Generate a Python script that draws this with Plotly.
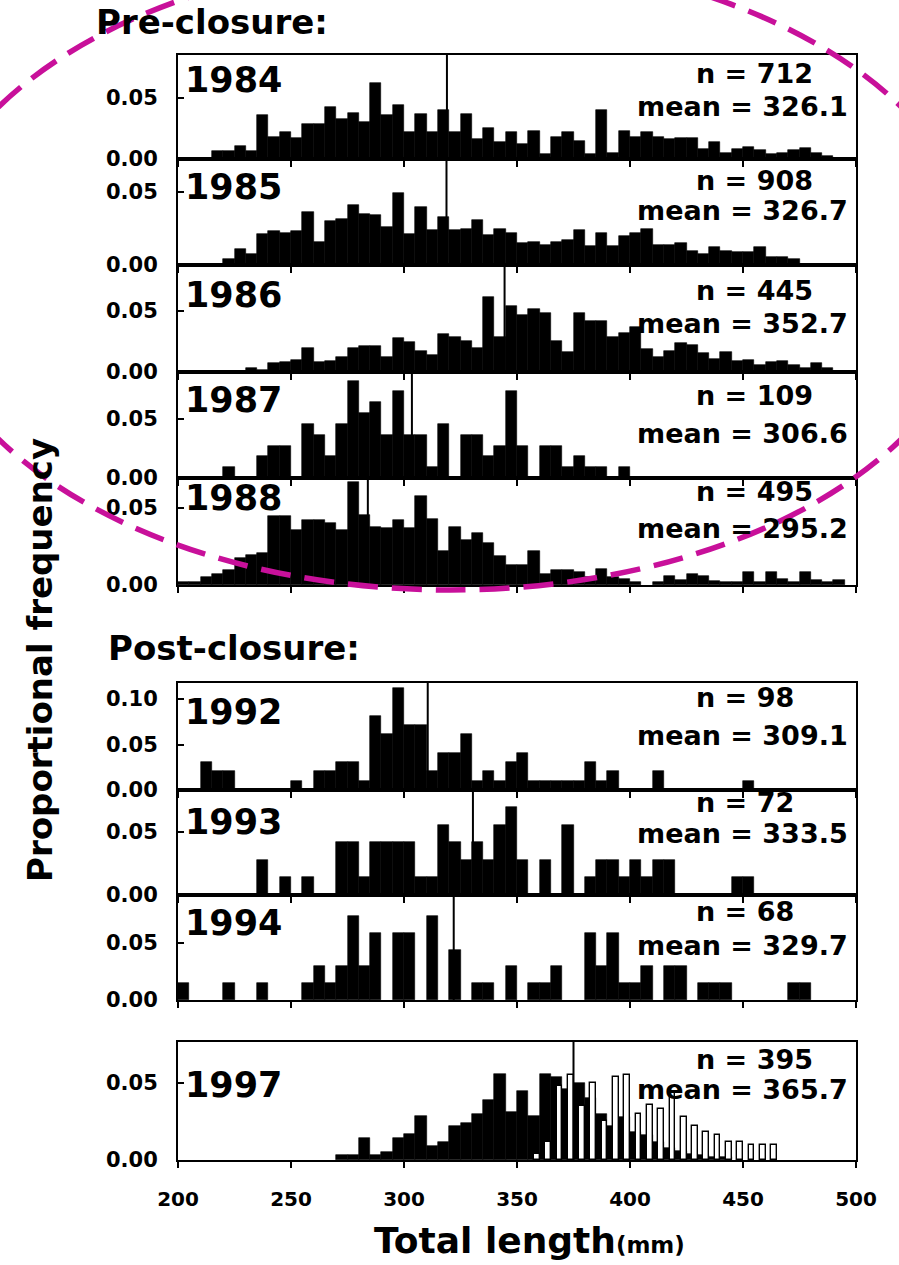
import plotly.graph_objects as go

W, H = 899, 1265
BIN_LEFT = list(range(200, 500, 5))   # 5-mm length classes, left edges
BIN_WIDTH = 5
X_TICKS = [200, 250, 300, 350, 400, 450, 500]

YEARS = ["1984", "1985", "1986", "1987", "1988", "1992", "1993", "1994", "1997"]
N_LABELS = [712, 908, 445, 109, 495, 98, 72, 68, 395]
MEAN_LABELS = ["326.1", "326.7", "352.7", "306.6", "295.2", "309.1", "333.5", "329.7", "365.7"]
MEAN_LINE_X = [319.0, 318.8, 344.5, 303.5, 284.0, 310.5, 330.5, 322.0, 375.0]

# proportional frequencies
F1984 = [0, 0, 0, 0.0067, 0.0067, 0.011, 0.0067, 0.036, 0.018, 0.0225,
         0.017, 0.029, 0.029, 0.043, 0.033, 0.038, 0.030, 0.062, 0.036, 0.044,
         0.0225, 0.037, 0.0225, 0.040, 0.022, 0.037, 0.016, 0.025, 0.0136, 0.022,
         0.012, 0.023, 0.0044, 0.018, 0.0225, 0.015, 0.004, 0.040, 0.005, 0.023,
         0.018, 0.022, 0.018, 0.016, 0.017, 0.017, 0.008, 0.0136, 0.005, 0.008,
         0.010, 0.007, 0.004, 0.005, 0.007, 0.009, 0.005, 0.0025, 0, 0]
F1985 = [0, 0, 0, 0, 0.0043, 0.011, 0.0076, 0.021, 0.0235, 0.022,
         0.0235, 0.036, 0.0157, 0.030, 0.0315, 0.041, 0.035, 0.034, 0.0257, 0.049,
         0.021, 0.0396, 0.024, 0.0326, 0.024, 0.025, 0.031, 0.0207, 0.025, 0.0217,
         0.0148, 0.0157, 0.0135, 0.0157, 0.017, 0.024, 0.013, 0.0217, 0.013, 0.020,
         0.0217, 0.025, 0.014, 0.0135, 0.0148, 0.0098, 0.0076, 0.012, 0.0098, 0.009,
         0.0087, 0.012, 0.0054, 0.0054, 0.004, 0, 0, 0, 0, 0]
F1986 = [0, 0, 0, 0, 0, 0, 0.0033, 0.002, 0.007, 0.008,
         0.0097, 0.020, 0.0078, 0.0089, 0.0125, 0.0194, 0.021, 0.0217, 0.0125, 0.028,
         0.0244, 0.0172, 0.0139, 0.031, 0.029, 0.0256, 0.020, 0.0617, 0.029, 0.054,
         0.0467, 0.052, 0.0486, 0.0256, 0.016, 0.048, 0.042, 0.0417, 0.029, 0.032,
         0.0367, 0.019, 0.0125, 0.0172, 0.0236, 0.022, 0.0153, 0.011, 0.016, 0.0089,
         0.0097, 0.0056, 0.008, 0.0089, 0.0056, 0.0033, 0.007, 0.0033, 0, 0]
C1987 = [0, 0, 0, 0, 1, 0, 0, 2, 3, 3,
         0, 5, 4, 2, 5, 9, 6, 7, 4, 8,
         4, 4, 1, 5, 0, 4, 4, 2, 3, 8,
         3, 0, 3, 3, 1, 2, 1, 1, 0, 1,
         0, 0, 0, 0, 0, 0, 0, 0, 0, 0,
         0, 0, 0, 0, 0, 0, 0, 0, 0, 0]
F1988 = [0.002, 0.002, 0.005, 0.007, 0.010, 0.0176, 0.0197, 0.021, 0.045, 0.045,
         0.036, 0.042, 0.042, 0.040, 0.036, 0.067, 0.0455, 0.0375, 0.037, 0.042,
         0.037, 0.058, 0.043, 0.022, 0.0375, 0.029, 0.034, 0.027, 0.019, 0.0133,
         0.0133, 0.022, 0.007, 0.0097, 0.010, 0.0086, 0.0054, 0.0105, 0.0054, 0.004,
         0.002, 0, 0.002, 0.006, 0.003, 0.0069, 0.006, 0.0026, 0.002, 0.002,
         0.0082, 0.002, 0.0082, 0.004, 0.002, 0.0082, 0.003, 0.002, 0.003, 0]
C1992 = [0, 0, 3, 2, 2, 0, 0, 0, 0, 0,
         1, 0, 2, 2, 3, 3, 1, 8, 6, 11,
         7, 7, 2, 4, 4, 6, 1, 2, 1, 3,
         4, 1, 1, 1, 1, 1, 3, 1, 2, 0,
         0, 0, 2, 0, 0, 0, 0, 0, 0, 0,
         1, 0, 0, 0, 0, 0, 0, 0, 0, 0]
C1993 = [0, 0, 0, 0, 0, 0, 0, 2, 0, 1,
         0, 1, 0, 0, 3, 3, 1, 3, 3, 3,
         3, 1, 1, 4, 3, 2, 3, 2, 4, 5,
         2, 0, 2, 0, 4, 0, 1, 2, 2, 1,
         2, 1, 2, 2, 0, 0, 0, 0, 0, 1,
         1, 0, 0, 0, 0, 0, 0, 0, 0, 0]
C1994 = [1, 0, 0, 0, 1, 0, 0, 1, 0, 0,
         0, 1, 2, 1, 2, 5, 2, 4, 0, 4,
         4, 0, 5, 0, 3, 0, 1, 1, 0, 2,
         0, 1, 1, 2, 0, 0, 4, 2, 4, 1,
         1, 2, 0, 2, 2, 0, 1, 1, 1, 0,
         0, 0, 0, 0, 1, 1, 0, 0, 0, 0]
F1997_DARK = [0, 0, 0, 0, 0, 0, 0, 0, 0, 0,
              0, 0, 0, 0, 0.003, 0.003, 0.0145, 0.003, 0.005, 0.014,
              0.017, 0.0285, 0.0093, 0.012, 0.022, 0.024, 0.030, 0.039, 0.056, 0.031,
              0.045, 0.0285, 0.056, 0.054, 0.046, 0.050, 0.040, 0.030, 0.022, 0.028,
              0.018, 0.016, 0.012, 0.008, 0.006, 0.004, 0.003, 0.002, 0.002, 0,
              0, 0, 0, 0, 0, 0, 0, 0, 0, 0]
F1997_OPEN = [0, 0, 0, 0, 0, 0, 0, 0, 0, 0,
              0, 0, 0, 0, 0, 0, 0, 0, 0, 0,
              0, 0, 0, 0, 0, 0, 0, 0, 0, 0,
              0, 0.004, 0.012, 0.048, 0.055, 0.035, 0.050, 0.025, 0.054, 0.055,
              0.030, 0.036, 0.033, 0.044, 0.028, 0.022, 0.018, 0.016, 0.012, 0.012,
              0.010, 0.010, 0.010, 0, 0, 0, 0, 0, 0, 0]

SERIES = [F1984, F1985, F1986,
          [c / N_LABELS[3] for c in C1987],
          F1988,
          [c / N_LABELS[5] for c in C1992],
          [c / N_LABELS[6] for c in C1993],
          [c / N_LABELS[7] for c in C1994],
          F1997_DARK]

# layout (pixel geometry of each panel)
PLOT_X0, PLOT_X1 = 178, 856
PANEL_TOP = [55, 159, 265, 372, 478, 683, 790, 895, 1042]
PANEL_BOT = [159, 265, 372, 478, 585, 790, 895, 1000, 1160]
Y_MAX = [0.0852, 0.0726, 0.0877, 0.0898, 0.0695, 0.1176, 0.0833, 0.0921, 0.0766]
YEAR_Y = [80, 187, 295, 400, 498, 712, 822, 923, 1085]
N_Y = [73, 180, 290, 396, 492, 697, 802, 912, 1059]
MEAN_Y = [107, 210, 323, 433, 528, 735, 833, 945, 1089]

FONT = "DejaVu Sans"
centers = [b + BIN_WIDTH / 2 for b in BIN_LEFT]


def nz(vals):
    return [v if v > 0 else None for v in vals]


fig = go.Figure()
layout = dict(width=W, height=H,
              margin=dict(l=0, r=0, t=0, b=0, pad=0, autoexpand=False),
              autosize=False,
              paper_bgcolor="white", plot_bgcolor="white",
              barmode="overlay", showlegend=False, bargap=0)
shapes, annotations = [], []

for i, year in enumerate(YEARS):
    k = i + 1
    xs = "x" if k == 1 else f"x{k}"
    ys = "y" if k == 1 else f"y{k}"
    fig.add_trace(go.Bar(x=centers, y=nz(SERIES[i]), width=BIN_WIDTH, xaxis=xs, yaxis=ys,
                         marker=dict(color="black", line=dict(color="black", width=0.6))))
    if year == "1997":
        fig.add_trace(go.Bar(x=centers, y=nz(F1997_OPEN), width=BIN_WIDTH / 2, offset=0,
                             xaxis=xs, yaxis=ys,
                             marker=dict(color="white", line=dict(color="black", width=1.4))))
    layout["xaxis" if k == 1 else f"xaxis{k}"] = dict(
        domain=[PLOT_X0 / W, PLOT_X1 / W], range=[200, 500], anchor=ys, automargin=False,
        showline=True, linecolor="black", linewidth=2, mirror=True,
        showgrid=False, zeroline=False, tickvals=X_TICKS,
        ticks="outside", ticklen=6, tickwidth=2, tickcolor="black",
        showticklabels=(year == "1997"), ticklabelstandoff=14,
        tickfont=dict(family=FONT, size=20, color="black", weight="bold"))
    yt = [0, 0.05, 0.10] if year == "1992" else [0, 0.05]
    layout["yaxis" if k == 1 else f"yaxis{k}"] = dict(
        domain=[1 - PANEL_BOT[i] / H, 1 - PANEL_TOP[i] / H], range=[0, Y_MAX[i]], anchor=xs,
        automargin=False,
        showline=True, linecolor="black", linewidth=2, mirror=True,
        showgrid=False, zeroline=False, tickvals=yt, tickformat=".2f",
        ticks="inside", ticklen=6, tickwidth=2, tickcolor="black", ticklabelstandoff=14,
        tickfont=dict(family=FONT, size=21, color="black", weight="bold"))
    shapes.append(dict(type="line", xref=xs, yref=f"{ys} domain", x0=MEAN_LINE_X[i],
                       x1=MEAN_LINE_X[i], y0=0, y1=1, line=dict(color="black", width=2)))
    annotations.append(dict(text=f"<b>{year}</b>", xref="paper", yref="paper",
                            x=183 / W, y=1 - YEAR_Y[i] / H, xanchor="left", yanchor="middle",
                            showarrow=False, font=dict(family=FONT, size=35, color="black")))
    annotations.append(dict(text=f"<b>n = {N_LABELS[i]}</b>", xref="paper", yref="paper",
                            x=694 / W, y=1 - N_Y[i] / H, xanchor="left", yanchor="middle",
                            showarrow=False, font=dict(family=FONT, size=27, color="black")))
    annotations.append(dict(text=f"<b>mean = {MEAN_LABELS[i]}</b>", xref="paper", yref="paper",
                            x=850 / W, y=1 - MEAN_Y[i] / H, xanchor="right", yanchor="middle",
                            showarrow=False, font=dict(family=FONT, size=27, color="black")))

annotations += [
    dict(text="<b>Pre-closure:</b>", xref="paper", yref="paper", x=94 / W, y=1 - 22 / H,
         xanchor="left", yanchor="middle", showarrow=False,
         font=dict(family=FONT, size=34, color="black")),
    dict(text="<b>Post-closure:</b>", xref="paper", yref="paper", x=106 / W, y=1 - 648 / H,
         xanchor="left", yanchor="middle", showarrow=False,
         font=dict(family=FONT, size=34, color="black")),
    dict(text="<b>Proportional frequency</b>", xref="paper", yref="paper", x=40 / W, y=1 - 660 / H,
         xanchor="center", yanchor="middle", textangle=-90, showarrow=False,
         font=dict(family=FONT, size=34, color="black")),
    dict(text="<b>Total length<span style='font-size:23px'>(mm)</span></b>", xref="paper",
         yref="paper", x=529 / W, y=1 - 1240 / H, xanchor="center", yanchor="middle",
         showarrow=False, font=dict(family=FONT, size=36, color="black")),
]

# magenta dashed ellipse highlighting the pre-closure panels
EC_X, EC_Y, EA, EB = 450, 273, 530, 317
shapes.append(dict(type="circle", xref="paper", yref="paper", layer="above",
                   x0=(EC_X - EA) / W, x1=(EC_X + EA) / W,
                   y0=1 - (EC_Y + EB) / H, y1=1 - (EC_Y - EB) / H,
                   line=dict(color="#C8109A", width=5.5, dash="30px,14px")))

layout["shapes"] = shapes
layout["annotations"] = annotations
fig.update_layout(**layout)
fig.write_html("out.html")
